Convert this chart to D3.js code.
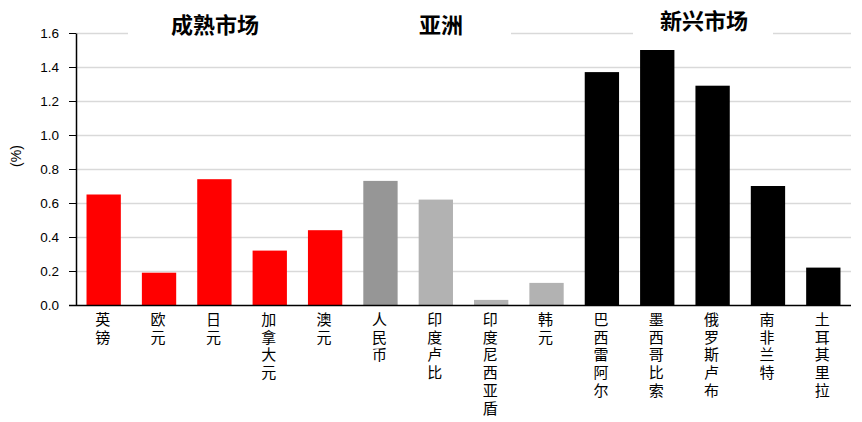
<!DOCTYPE html>
<html>
<head>
<meta charset="utf-8">
<script src="https://cdn.jsdelivr.net/npm/d3@7"></script>
<style>
  body { margin: 0; background: #fff; }
  svg { display: block; }
</style>
</head>
<body>
<div id="chart"></div>
<script>
// currency names, one per bar
var categories = ["英镑", "欧元", "日元", "加拿大元", "澳元",
                  "人民币", "印度卢比", "印度尼西亚盾", "韩元",
                  "巴西雷阿尔", "墨西哥比索", "俄罗斯卢布", "南非兰特", "土耳其里拉"];
// values in %
var values = [0.65, 0.19, 0.74, 0.32, 0.44,
              0.73, 0.62, 0.03, 0.13,
              1.37, 1.50, 1.29, 0.70, 0.22];
// which group each bar belongs to
var groups = ["mature", "mature", "mature", "mature", "mature",
              "cny", "asia", "asia", "asia",
              "em", "em", "em", "em", "em"];
var yTicks = [0, 0.2, 0.4, 0.6, 0.8, 1.0, 1.2, 1.4, 1.6];
var headers = ["成熟市场", "亚洲", "新兴市场"];

var colorOf = { mature: "#ff0000", cny: "#969696", asia: "#b2b2b2", em: "#000000" };

var width = 862, height = 422;
var margin = { top: 33, right: 11, bottom: 117, left: 76 };

var svg = d3.select("#chart").append("svg")
  .attr("width", width)
  .attr("height", height);

var x = d3.scaleBand()
  .domain(categories)
  .range([margin.left, width - margin.right])
  .paddingInner(0.38)
  .paddingOuter(0.19);

var y = d3.scaleLinear()
  .domain([0, 1.6])
  .range([height - margin.bottom, margin.top]);

// grid lines
svg.append("g")
  .selectAll("line")
  .data(yTicks.slice(1))
  .enter().append("line")
  .attr("x1", margin.left)
  .attr("x2", width - margin.right)
  .attr("y1", function(d) { return Math.round(y(d)) + 0.5; })
  .attr("y2", function(d) { return Math.round(y(d)) + 0.5; })
  .attr("stroke", "#d9d9d9")
  .attr("stroke-width", 1.5);

// bars
svg.append("g")
  .selectAll("rect")
  .data(values)
  .enter().append("rect")
  .attr("x", function(d, i) { return x(categories[i]); })
  .attr("width", x.bandwidth())
  .attr("y", function(d) { return y(d); })
  .attr("height", function(d) { return y(0) - y(d); })
  .attr("fill", function(d, i) { return colorOf[groups[i]]; });

// y axis
var yAxis = svg.append("g")
  .attr("transform", "translate(" + margin.left + ",0)")
  .call(d3.axisLeft(y).tickValues(yTicks).tickFormat(d3.format(".1f")).tickSize(7).tickSizeOuter(0));
yAxis.select(".domain").attr("stroke", "#000").attr("stroke-width", 1.5);
yAxis.selectAll(".tick line").attr("stroke", "#000");
yAxis.selectAll("text")
  .attr("x", -17)
  .attr("font-family", "Liberation Sans, Arial, sans-serif")
  .attr("font-size", 13.5)
  .attr("fill", "#000");

// x axis line
svg.append("line")
  .attr("x1", margin.left - 7)
  .attr("x2", width - margin.right)
  .attr("y1", y(0) + 0.5)
  .attr("y2", y(0) + 0.5)
  .attr("stroke", "#000")
  .attr("stroke-width", 1.5);

// x labels, one char per line going down, each char its own text
var labelGroups = svg.append("g")
  .selectAll("g")
  .data(categories)
  .enter().append("g")
  .attr("transform", function(d) {
    return "translate(" + (x(d) + x.bandwidth() / 2 - 1) + "," + (y(0) + 20) + ")";
  });

labelGroups.selectAll("text")
  .data(function(d) { return d.split(""); })
  .enter().append("text")
  .attr("y", function(d, k) { return k * 17.7; })
  .attr("text-anchor", "middle")
  .attr("font-family", "Noto Sans CJK SC, sans-serif")
  .attr("font-size", 15)
  .attr("fill", "#000")
  .text(function(d) { return d; });

// y axis title
svg.append("text")
  .attr("transform", "translate(21,156) rotate(-90)")
  .attr("text-anchor", "middle")
  .attr("font-family", "Liberation Sans, Arial, sans-serif")
  .attr("font-size", 14)
  .attr("fill", "#000")
  .text("(%)");

// header boxes (white, they hide the top grid line)
var boxes = [[128, 511], [633, 773]];
svg.append("g")
  .selectAll("rect")
  .data(boxes)
  .enter().append("rect")
  .attr("x", function(d) { return d[0]; })
  .attr("width", function(d) { return d[1] - d[0]; })
  .attr("y", 8)
  .attr("height", 36)
  .attr("fill", "#fff");

// group headers, placed over their bars (nudged like the original)
var headerSpan = [[0, 4], [5, 8], [9, 13]];
var headerNudge = [0.6, -22.5, -8.6];
var headerY = [33, 33, 29];
svg.append("g")
  .selectAll("text")
  .data(headers)
  .enter().append("text")
  .attr("x", function(d, i) {
    var a = x(categories[headerSpan[i][0]]);
    var b = x(categories[headerSpan[i][1]]) + x.bandwidth();
    return (a + b) / 2 + headerNudge[i];
  })
  .attr("y", function(d, i) { return headerY[i]; })
  .attr("text-anchor", "middle")
  .attr("font-family", "Noto Sans CJK SC, sans-serif")
  .attr("font-weight", "bold")
  .attr("font-size", 22)
  .attr("fill", "#000")
  .text(function(d) { return d; });
</script>
</body>
</html>
